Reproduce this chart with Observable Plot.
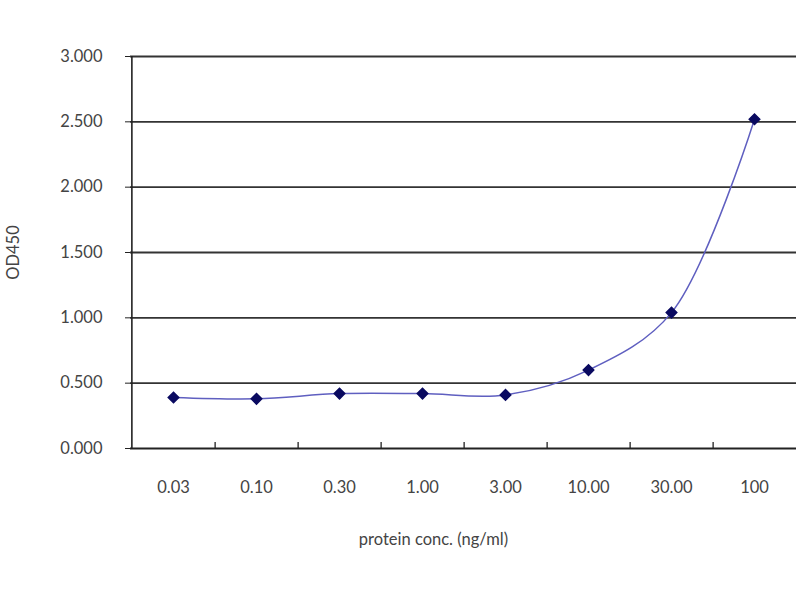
<!DOCTYPE html>
<html><head><meta charset="utf-8">
<script src="https://cdn.jsdelivr.net/npm/d3@7"></script>
<script src="https://cdn.jsdelivr.net/npm/@observablehq/plot@0.6"></script>
<style>
body{margin:0;background:#fff;}
#chart{width:800px;height:600px;}
</style></head><body><div id="chart"></div>
<script>
const concentrations = ["0.03","0.10","0.30","1.00","3.00","10.00","30.00","100"];
const od450 = [0.39, 0.38, 0.42, 0.42, 0.41, 0.60, 1.04, 2.52];
const yTicks = [0, 0.5, 1, 1.5, 2, 2.5, 3];
const xTitle = "protein conc. (ng/ml)";
const yTitle = "OD450";

const data = concentrations.map((c, i) => ({conc: c, od: od450[i]}));
const band = (796 - 130) / concentrations.length;

const chart = Plot.plot({
  width: 800,
  height: 600,
  marginLeft: 130,
  marginRight: 4,
  marginTop: 56,
  marginBottom: 152,
  style: {fontFamily: "Lato, sans-serif", fontSize: "16.5px", color: "#333", background: "#fff"},
  x: {type: "point", domain: concentrations, padding: 0.5, label: null},
  y: {domain: [0, 3], label: null},
  marks: [
    Plot.ruleY(yTicks.filter(d => d > 0), {stroke: "#333", strokeWidth: 1.8}),
    Plot.axisY({ticks: yTicks, tickFormat: d3.format(".3f"), tickSize: 5, tickPadding: 23, stroke: "#222", fill: "#444", fontSize: 16.5}),
    Plot.axisX({tickSize: 0, tickPadding: 33, fill: "#444", fontSize: 16.5}),
    Plot.ruleX(concentrations.slice(0, -1), {x: d => d, dx: band / 2, y1: 0, y2: 0.045, stroke: "#222", strokeWidth: 1.3}),
    Plot.ruleX([concentrations[0]], {x: d => d, dx: -band / 2, y1: 0, y2: 3, stroke: "#222", strokeWidth: 1.6}),
    Plot.ruleY([0], {stroke: "#222", strokeWidth: 1.8}),
    Plot.line(data, {x: "conc", y: "od", curve: "catmull-rom", stroke: "#5f5fc0", strokeWidth: 1.5}),
    Plot.dot(data, {x: "conc", y: "od", symbol: "square", rotate: 45, r: 4.2, fill: "#0a0a60", stroke: "#0a0a60"}),
    Plot.text([xTitle], {frameAnchor: "bottom", dx: -30, dy: 96, fontSize: 16.5, fill: "#444"}),
    Plot.text([yTitle], {frameAnchor: "left", textAnchor: "middle", dx: -117, rotate: -90, fontSize: 16.5, fill: "#444"})
  ]
});
document.getElementById("chart").appendChild(chart);
</script></body></html>
